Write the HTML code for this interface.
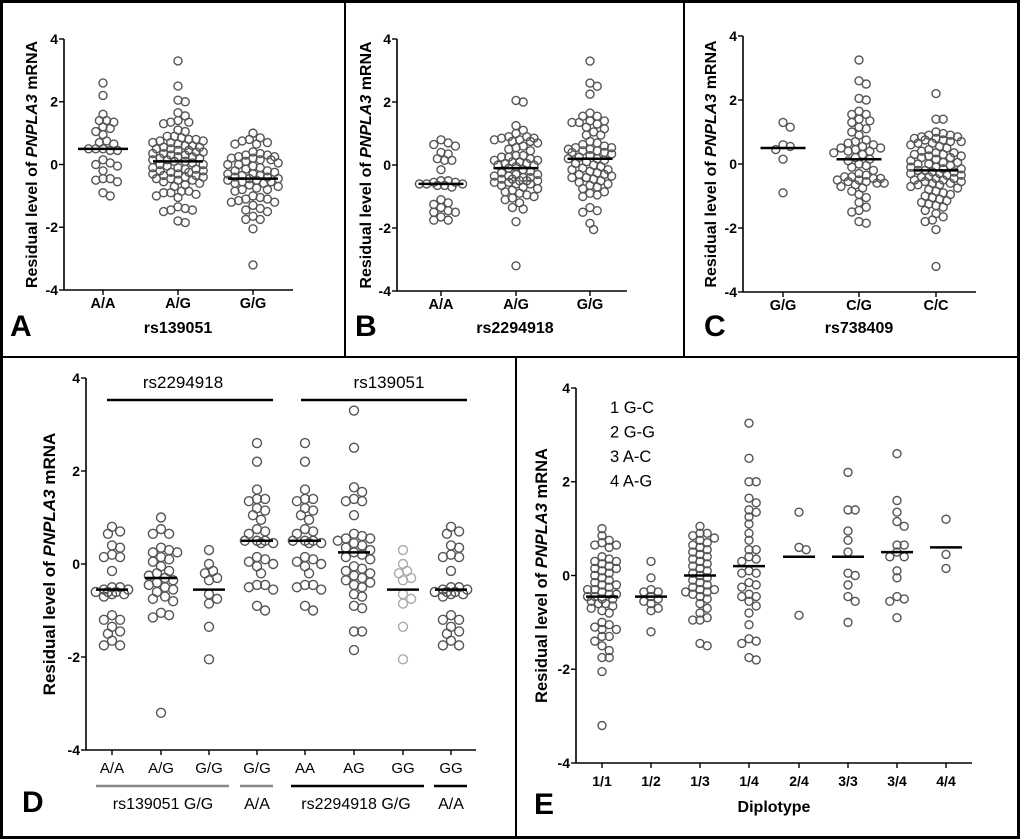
<!DOCTYPE html>
<html><head><meta charset="utf-8"><style>
html,body{margin:0;padding:0;background:#fff;}
svg{display:block;font-family:"Liberation Sans",Arial,sans-serif;}
</style></head><body>
<svg id="fig" width="1020" height="839" viewBox="0 0 1020 839" xmlns="http://www.w3.org/2000/svg">
<rect x="1.5" y="1.5" width="1017" height="836" fill="#fff" stroke="#000" stroke-width="3"/>
<line x1="0" y1="357" x2="1020" y2="357" stroke="#000" stroke-width="2"/>
<line x1="345" y1="0" x2="345" y2="357" stroke="#000" stroke-width="2"/>
<line x1="684" y1="0" x2="684" y2="357" stroke="#000" stroke-width="2"/>
<line x1="516" y1="357" x2="516" y2="839" stroke="#000" stroke-width="2"/>
</svg>
<script>
// ---------- DATA ----------
const ticks = [4, 2, 0, -2, -4];
const catsA = ["A/A", "A/G", "G/G"];
const A_AA = [2.6,2.2,1.6,1.4,1.4,1.35,1.2,1.15,1.05,0.95,0.75,0.7,0.65,0.5,0.5,0.45,0.45,0.5,0.15,0.05,0.0,-0.05,-0.2,-0.45,-0.45,-0.5,-0.55,-0.9,-1.0];
const A_AG = [3.3,2.5,2.05,2.0,1.65,1.55,1.4,1.35,1.35,1.3,1.1,1.05,0.9,0.9,0.85,0.8,0.8,0.75,0.75,0.7,0.7,0.65,0.6,0.6,0.55,0.55,0.5,0.5,0.45,0.45,0.4,0.4,0.35,0.35,0.3,0.3,0.25,0.25,0.2,0.2,0.15,0.15,0.1,0.1,0.05,0.0,0.0,-0.05,-0.1,-0.1,-0.15,-0.15,-0.2,-0.2,-0.25,-0.25,-0.3,-0.3,-0.35,-0.35,-0.4,-0.4,-0.45,-0.45,-0.5,-0.5,-0.55,-0.6,-0.65,-0.7,-0.85,-0.9,-0.95,-1.0,-1.05,-0.9,-0.85,-1.4,-1.45,-1.5,-1.45,-1.35,-1.8,-1.85];
const A_GG = [1.0,0.85,0.8,0.75,0.7,0.65,0.65,0.4,0.35,0.3,0.3,0.25,0.25,0.2,0.2,0.15,0.15,0.1,0.05,0.0,0.0,-0.05,-0.1,-0.15,-0.2,-0.2,-0.25,-0.3,-0.3,-0.35,-0.35,-0.4,-0.4,-0.45,-0.45,-0.5,-0.5,-0.55,-0.55,-0.6,-0.6,-0.65,-0.7,-0.75,-0.8,-0.85,-0.8,-1.0,-1.05,-1.1,-1.1,-1.15,-1.2,-1.2,-1.3,-1.4,-1.45,-1.5,-1.65,-1.75,-1.75,-2.05,-3.2];
const meansA = [0.5, 0.1, -0.45];

const catsB = ["A/A", "A/G", "G/G"];
const B_AA = [0.8,0.7,0.65,0.6,0.4,0.35,0.2,0.15,0.15,-0.15,-0.5,-0.55,-0.6,-0.6,-0.65,-0.65,-0.7,-0.6,-0.55,-0.5,-1.1,-1.2,-1.25,-1.35,-1.45,-1.5,-1.5,-1.65,-1.75,-1.75];
const B_AG = [2.05,2.0,1.25,1.1,1.0,0.9,0.9,0.85,0.85,0.8,0.8,0.75,0.75,0.7,0.6,0.55,0.5,0.45,0.3,0.3,0.25,0.25,0.2,0.15,0.15,0.1,0.1,0.05,0.05,0.0,0.0,-0.05,-0.1,-0.15,-0.2,-0.25,-0.3,-0.3,-0.35,-0.35,-0.4,-0.4,-0.45,-0.45,-0.5,-0.5,-0.5,-0.55,-0.55,-0.6,-0.6,-0.65,-0.7,-0.75,-0.8,-0.85,-0.9,-0.95,-1.0,-1.05,-1.1,-1.2,-1.35,-1.4,-1.8,-3.2];
const B_GG = [3.3,2.6,2.5,2.25,1.65,1.55,1.55,1.4,1.4,1.35,1.35,1.3,1.2,1.15,1.05,0.95,0.95,0.75,0.7,0.65,0.6,0.55,0.55,0.5,0.5,0.45,0.45,0.4,0.4,0.35,0.3,0.25,0.2,0.2,0.15,0.1,0.05,0.0,-0.05,-0.1,-0.15,-0.15,-0.2,-0.25,-0.3,-0.3,-0.35,-0.4,-0.4,-0.45,-0.5,-0.55,-0.6,-0.65,-0.7,-0.75,-0.85,-0.9,-0.95,-1.0,-1.35,-1.45,-1.5,-1.85,-2.05];
const meansB = [-0.6, -0.1, 0.2];

const catsC = ["G/G", "C/G", "C/C"];
const C_GG = [1.3,1.15,0.6,0.55,0.45,0.15,-0.9];
const C_CG = [3.25,2.6,2.5,2.05,2.0,1.65,1.55,1.55,1.4,1.35,1.3,1.15,1.1,1.0,0.9,0.75,0.7,0.65,0.6,0.55,0.5,0.5,0.45,0.4,0.4,0.35,0.3,0.2,0.15,0.1,0.0,-0.05,-0.1,-0.2,-0.3,-0.35,-0.4,-0.4,-0.45,-0.45,-0.5,-0.5,-0.55,-0.55,-0.6,-0.6,-0.65,-0.7,-0.75,-0.85,-0.95,-1.05,-1.2,-1.35,-1.45,-1.5,-1.8,-1.85];
const C_CC = [2.2,1.4,1.4,1.0,0.95,0.9,0.9,0.85,0.85,0.8,0.8,0.75,0.75,0.7,0.7,0.65,0.65,0.6,0.55,0.5,0.45,0.4,0.35,0.35,0.3,0.3,0.25,0.25,0.2,0.2,0.15,0.1,0.05,0.05,0.0,0.0,-0.05,-0.1,-0.1,-0.15,-0.15,-0.2,-0.2,-0.25,-0.25,-0.3,-0.3,-0.35,-0.35,-0.4,-0.4,-0.45,-0.45,-0.5,-0.5,-0.55,-0.55,-0.6,-0.6,-0.65,-0.65,-0.7,-0.75,-0.8,-0.85,-0.9,-0.95,-1.0,-1.05,-1.1,-1.15,-1.2,-1.25,-1.3,-1.35,-1.45,-1.55,-1.65,-1.75,-1.8,-2.05,-3.2];
const meansC = [0.5, 0.15, -0.2];

const catsD = ["A/A", "A/G", "G/G", "G/G", "AA", "AG", "GG", "GG"];
const D_1 = [0.8,0.7,0.65,0.4,0.35,0.2,0.15,0.15,-0.15,-0.5,-0.55,-0.6,-0.6,-0.65,-0.65,-0.7,-0.6,-0.55,-0.5,-1.1,-1.2,-1.2,-1.35,-1.45,-1.5,-1.65,-1.75,-1.75];
const D_2 = [1.0,0.75,0.65,0.65,0.35,0.3,0.25,0.25,0.15,0.1,0.05,-0.05,-0.15,-0.2,-0.25,-0.3,-0.35,-0.4,-0.45,-0.5,-0.55,-0.6,-0.7,-0.75,-0.8,-1.05,-1.1,-1.15,-3.2];
const D_3 = [0.3,0.0,-0.15,-0.2,-0.3,-0.35,-0.65,-0.75,-0.85,-1.35,-2.05];
const D_4 = [2.6,2.2,1.6,1.4,1.4,1.35,1.2,1.15,1.05,0.95,0.75,0.7,0.65,0.5,0.5,0.45,0.45,0.5,0.15,0.1,0.05,0.0,-0.05,-0.2,-0.45,-0.45,-0.5,-0.55,-0.9,-1.0];
const D_5 = [2.6,2.2,1.6,1.4,1.4,1.35,1.2,1.15,1.05,0.95,0.75,0.7,0.65,0.5,0.5,0.45,0.45,0.5,0.15,0.1,0.05,0.0,-0.05,-0.2,-0.45,-0.45,-0.5,-0.55,-0.9,-1.0];
const D_6 = [3.3,2.5,1.65,1.55,1.4,1.35,1.35,1.05,0.65,0.6,0.55,0.55,0.5,0.45,0.4,0.35,0.3,0.25,0.2,0.15,0.1,-0.05,-0.1,-0.15,-0.2,-0.25,-0.3,-0.35,-0.4,-0.45,-0.5,-0.65,-0.7,-0.9,-0.95,-1.45,-1.45,-1.85];
const D_7 = [0.3,0.0,-0.15,-0.2,-0.3,-0.35,-0.65,-0.75,-0.85,-1.35,-2.05];
const D_8 = [0.8,0.7,0.65,0.4,0.35,0.2,0.15,0.15,-0.15,-0.5,-0.55,-0.6,-0.6,-0.65,-0.65,-0.7,-0.6,-0.55,-0.5,-1.1,-1.2,-1.2,-1.35,-1.45,-1.5,-1.65,-1.75,-1.75];
const meansD = [-0.55, -0.3, -0.55, 0.5, 0.5, 0.25, -0.55, -0.55];

const catsE = ["1/1", "1/2", "1/3", "1/4", "2/4", "3/3", "3/4", "4/4"];
const E_11 = [1.0,0.85,0.75,0.7,0.65,0.65,0.6,0.4,0.35,0.3,0.3,0.25,0.2,0.15,0.15,0.1,0.05,0.0,-0.05,-0.1,-0.15,-0.2,-0.2,-0.25,-0.3,-0.3,-0.35,-0.4,-0.4,-0.45,-0.45,-0.5,-0.5,-0.55,-0.6,-0.6,-0.65,-0.7,-0.75,-0.8,-1.0,-1.05,-1.1,-1.15,-1.15,-1.3,-1.3,-1.4,-1.5,-1.6,-1.75,-1.75,-2.05,-3.2];
const E_12 = [0.3,-0.05,-0.3,-0.35,-0.35,-0.45,-0.5,-0.55,-0.6,-0.7,-0.75,-1.2];
const E_13 = [1.05,0.9,0.9,0.85,0.8,0.75,0.7,0.65,0.6,0.55,0.5,0.45,0.4,0.35,0.3,0.25,0.2,0.15,0.1,0.05,0.0,-0.05,-0.1,-0.15,-0.2,-0.25,-0.3,-0.3,-0.35,-0.35,-0.4,-0.45,-0.5,-0.6,-0.7,-0.8,-0.9,-0.95,-0.95,-1.45,-1.5];
const E_14 = [3.25,2.5,2.0,2.0,1.65,1.55,1.4,1.35,1.25,1.1,0.9,0.75,0.55,0.55,0.4,0.35,0.3,0.1,0.05,0.05,-0.15,-0.2,-0.25,-0.4,-0.45,-0.45,-0.55,-0.65,-0.8,-1.05,-1.35,-1.4,-1.45,-1.75,-1.8];
const E_24 = [1.35,0.6,0.55,-0.85];
const E_33 = [2.2,1.4,1.4,0.95,0.75,0.5,0.05,0.0,-0.2,-0.45,-0.55,-1.0];
const E_34 = [2.6,1.6,1.35,1.15,1.05,0.65,0.65,0.5,0.4,0.4,0.1,-0.05,-0.5,-0.45,-0.55,-0.9];
const E_44 = [1.2,0.45,0.15];
const meansE = [-0.45, -0.45, 0.0, 0.2, 0.4, 0.4, 0.5, 0.6];

// ---------- DRAWING ----------
const NS = "http://www.w3.org/2000/svg";
const svg = document.getElementById("fig");
function mk(tag, attrs, parent) {
  const e = document.createElementNS(NS, tag);
  for (const k in attrs) e.setAttribute(k, attrs[k]);
  (parent || svg).appendChild(e);
  return e;
}
function txt(s, attrs, parent) { const t = mk("text", attrs, parent); t.textContent = s; return t; }

function panel(p) {
  const g = mk("g", {});
  
  
  const y = v => p.yTop + (4 - v) / 8 * (p.yBot - p.yTop);
  const x = i => p.cx[i];
  const ya = mk("line", {x1:p.ax, y1:p.yTop, x2:p.ax, y2:p.yBot, stroke:"#000", "stroke-width":1.6}, g);
  
  
  const xa = mk("line", {x1:p.ax, y1:p.yBot, x2:p.xEnd, y2:p.yBot, stroke:"#000", "stroke-width":1.6}, g);
  
  
  ticks.forEach(t => {
    mk("line", {x1:p.ax-5, y1:y(t), x2:p.ax, y2:y(t), stroke:"#000", "stroke-width":1.4}, g);
    const tl = txt(String(t), {x:p.ax-6, y:y(t)+p.tf*0.35, "text-anchor":"end", "font-size":p.tf, "font-weight":"bold"}, g);
    
    
  });
  const yt = txt("", {transform:`translate(${p.ytx},${(p.yTop+p.yBot)/2}) rotate(-90)`, "text-anchor":"middle", "font-size":p.ytf, "font-weight":"bold"}, g);
  yt.innerHTML = 'Residual level of <tspan font-style="italic">PNPLA3</tspan> mRNA';
  
  
  p.cats.forEach((c, i) => {
    mk("line", {x1:x(i), y1:p.yBot, x2:x(i), y2:p.yBot+5, stroke:"#000", "stroke-width":1.4}, g);
    const cl = txt(c, {x:x(i), y:p.yBot+p.xlOff, "text-anchor":"middle", "font-size":p.xf, "font-weight":p.xw}, g);
    
    
  });
  p.groups.forEach((vals, i) => {
    const sorted = vals.slice().sort((a,b)=>b-a);
    const placed = [];
    const r = p.r, min = p.minD, step = r*0.9;
    sorted.forEach(v => {
      const py = y(v);
      let best = x(i), bestD = -1;
      for (let k = 0; k < 80; k++) {
        const off = (k === 0) ? 0 : (k % 2 ? 1 : -1) * Math.ceil(k/2) * step;
        if (Math.abs(off) > p.maxOff) break;
        const cand = x(i) + off;
        let d = Infinity;
        placed.forEach(q => { d = Math.min(d, Math.hypot(q[0]-cand, q[1]-py)); });
        if (d >= min) { best = cand; bestD = Infinity; break; }
        if (d > bestD) { bestD = d; best = cand; }
      }
      placed.push([best, py]);
      const c = mk("circle", {cx:best, cy:py, r:r, fill:"none", stroke:(p.colors && p.colors[i]) || "#555", "stroke-width":1.4}, g);
      
      
    });
    const m = mk("line", {x1:x(i)-p.mw/2, y1:y(p.means[i]), x2:x(i)+p.mw/2, y2:y(p.means[i]), stroke:"#000", "stroke-width":2.5}, g);
    
    
  });
  const L = txt(p.letter, {x:p.lx, y:p.ly, "font-size":30, "font-weight":"bold"}, g);
  
  
  if (p.xt) {
    const xt = txt(p.xt, {x:p.xtx, y:p.xty, "text-anchor":"middle", "font-size":p.xtf, "font-weight":"bold"}, g);
    
    
  }
  return {g, y};
}

panel({name:"panel-a", ax:64, xEnd:293, yTop:39, yBot:290, cx:[103,178,253], cats:catsA, groups:[A_AA,A_AG,A_GG], means:meansA,
  tf:14, ytf:16, ytx:37, xf:14.5, xw:"bold", xlOff:18, r:4, minD:6.5, maxOff:26, mw:50, letter:"A", lx:10, ly:336, xt:"rs139051", xtx:178, xty:333, xtf:16});
panel({name:"panel-b", ax:397, xEnd:627, yTop:39, yBot:291, cx:[441,516,590], cats:catsB, groups:[B_AA,B_AG,B_GG], means:meansB,
  tf:14, ytf:16, ytx:371, xf:14.5, xw:"bold", xlOff:18, r:4, minD:6.5, maxOff:25, mw:45, letter:"B", lx:355, ly:336, xt:"rs2294918", xtx:515, xty:333, xtf:16});
panel({name:"panel-c", ax:743, xEnd:976, yTop:36, yBot:292, cx:[783,859,936], cats:catsC, groups:[C_GG,C_CG,C_CC], means:meansC,
  tf:14, ytf:16, ytx:716, xf:14.5, xw:"bold", xlOff:18, r:4, minD:6.5, maxOff:26, mw:45, letter:"C", lx:704, ly:336, xt:"rs738409", xtx:859, xty:333, xtf:16});
panel({name:"panel-d", ax:86, xEnd:476, yTop:378, yBot:750, cx:[112,161,209,257,305,354,403,451], cats:catsD,
  groups:[D_1,D_2,D_3,D_4,D_5,D_6,D_7,D_8], means:meansD, colors:["#555","#555","#555","#555","#555","#555","#aaa","#555"],
  tf:14, ytf:17, ytx:55, xf:15, xw:"normal", xlOff:23, r:4.5, minD:8, maxOff:18, mw:32, letter:"D", lx:22, ly:812});
panel({name:"panel-e", ax:576, xEnd:972, yTop:388, yBot:763, cx:[602,651,700,749,799,848,897,946], cats:catsE,
  groups:[E_11,E_12,E_13,E_14,E_24,E_33,E_34,E_44], means:meansE,
  tf:14, ytf:16.5, ytx:547, xf:14, xw:"bold", xlOff:23, r:4, minD:6.5, maxOff:17, mw:32, letter:"E", lx:534, ly:814, xt:"Diplotype", xtx:774, xty:812, xtf:16});

(function(){
  const g = mk("g", {});
  
  
  const t1 = txt("rs2294918", {x:183, y:388, "text-anchor":"middle", "font-size":17}, g);
  
  
  const t2 = txt("rs139051", {x:389, y:388, "text-anchor":"middle", "font-size":17}, g);
  
  
  mk("line", {x1:107, y1:400, x2:273, y2:400, stroke:"#000", "stroke-width":2.5}, g);
  mk("line", {x1:301, y1:400, x2:467, y2:400, stroke:"#000", "stroke-width":2.5}, g);
  mk("line", {x1:96, y1:786, x2:229, y2:786, stroke:"#888", "stroke-width":2.5}, g);
  mk("line", {x1:240, y1:786, x2:273, y2:786, stroke:"#888", "stroke-width":2.5}, g);
  mk("line", {x1:291, y1:786, x2:424, y2:786, stroke:"#000", "stroke-width":2.5}, g);
  mk("line", {x1:434, y1:786, x2:467, y2:786, stroke:"#000", "stroke-width":2.5}, g);
  const b1 = txt("rs139051 G/G", {x:163, y:809, "text-anchor":"middle", "font-size":16}, g);
  
  
  const b2 = txt("A/A", {x:257, y:809, "text-anchor":"middle", "font-size":16}, g);
  
  
  const b3 = txt("rs2294918 G/G", {x:356, y:809, "text-anchor":"middle", "font-size":16}, g);
  
  
  const b4 = txt("A/A", {x:451, y:809, "text-anchor":"middle", "font-size":16}, g);
  
  
  const legend = ["1 G-C", "2 G-G", "3 A-C", "4 A-G"];
  legend.forEach((s, i) => {
    const l = txt(s, {x:610, y:413 + i*24.5, "font-size":16.5}, g);
    
    
  });
})();
</script>
</body></html>
